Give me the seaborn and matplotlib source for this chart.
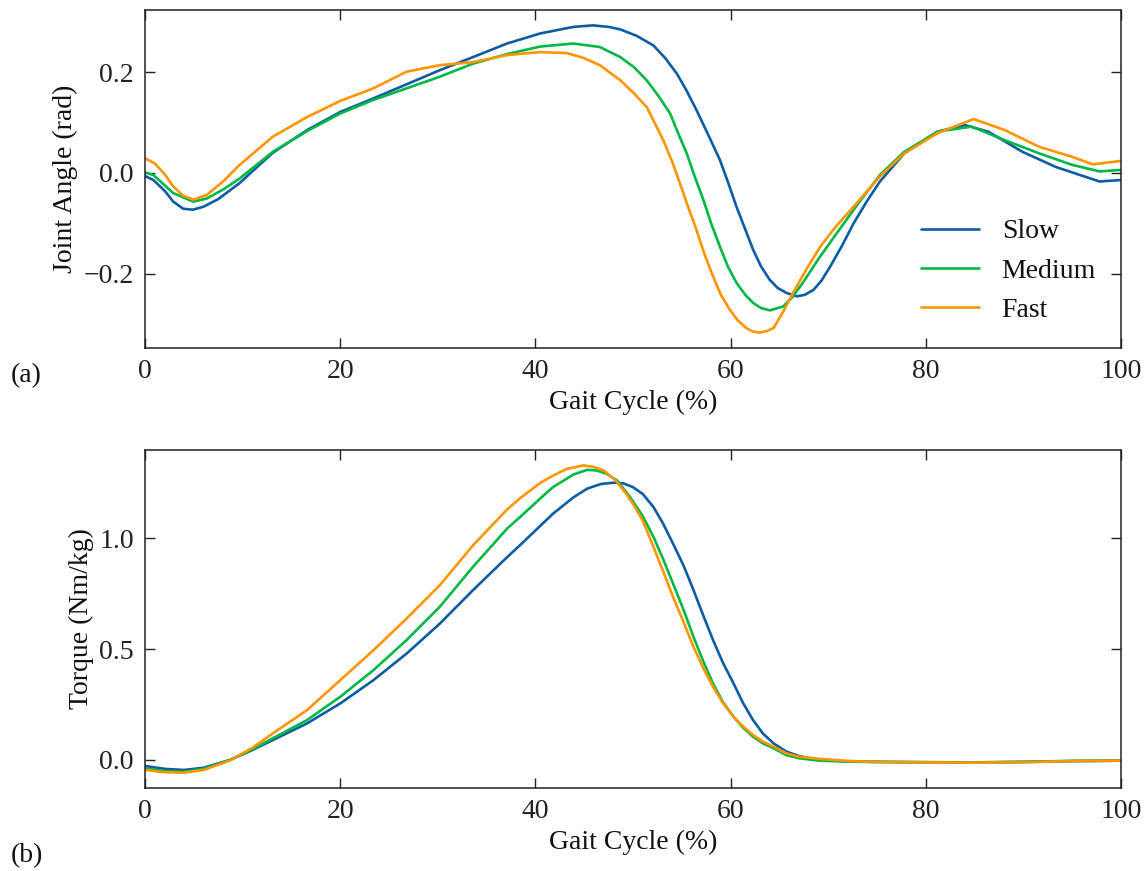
import numpy as np
import pandas as pd
import matplotlib
matplotlib.use("Agg")
import matplotlib.pyplot as plt
from matplotlib.ticker import MultipleLocator
import seaborn as sns

SPEEDS = ["Slow", "Medium", "Fast"]
COLORS = {"Slow": "#0C5DA5", "Medium": "#00B945", "Fast": "#FF9500"}

# (gait cycle %, joint angle rad)
angle_slow = [
    (0, -0.006), (0.85, -0.014), (2, -0.035), (2.9, -0.057), (3.9, -0.071), (4.9, -0.073),
    (6.0, -0.067), (7.5, -0.052), (9.7, -0.020), (11.5, 0.012), (13.1, 0.040), (16.6, 0.085),
    (20.0, 0.121), (23.4, 0.148), (26.8, 0.176), (30.2, 0.204), (33.6, 0.230), (37.1, 0.257),
    (40.5, 0.277), (43.9, 0.290), (45.9, 0.293), (47.5, 0.290), (48.7, 0.285), (50.4, 0.272),
    (52.1, 0.253), (53.3, 0.228), (54.5, 0.197), (55.5, 0.163), (56.5, 0.125), (57.7, 0.076),
    (58.9, 0.026), (59.8, -0.022), (60.6, -0.067), (61.5, -0.112), (62.3, -0.152),
    (63.1, -0.185), (64.0, -0.212), (64.8, -0.228), (65.7, -0.238), (66.8, -0.245),
    (67.6, -0.242), (68.5, -0.232), (69.3, -0.214), (70.2, -0.186), (71.4, -0.145),
    (72.6, -0.100), (74.0, -0.055), (75.3, -0.017), (77.8, 0.039), (81.2, 0.082),
    (84.0, 0.095), (86.4, 0.082), (89.9, 0.042), (93.3, 0.012), (97.8, -0.017), (100, -0.014),
]
angle_medium = [
    (0, 0.001), (0.85, -0.004), (2.9, -0.040), (4.95, -0.057), (6.3, -0.051), (8.0, -0.033),
    (9.7, -0.011), (13.1, 0.042), (16.6, 0.083), (20.0, 0.118), (23.4, 0.145), (26.8, 0.168),
    (30.2, 0.191), (33.6, 0.217), (37.1, 0.236), (40.5, 0.251), (43.9, 0.257), (46.6, 0.250),
    (48.7, 0.230), (50.1, 0.210), (51.4, 0.184), (52.6, 0.153), (53.8, 0.118), (54.6, 0.080),
    (55.5, 0.039), (56.3, -0.006), (57.2, -0.053), (58.0, -0.100), (58.9, -0.146),
    (59.7, -0.185), (60.6, -0.218), (61.5, -0.242), (62.3, -0.258), (63.1, -0.268),
    (64.0, -0.273), (65.4, -0.265), (66.4, -0.245), (67.4, -0.218), (69.1, -0.168),
    (70.9, -0.119), (73.1, -0.060), (75.3, -0.004), (77.8, 0.042), (81.2, 0.082),
    (84.7, 0.092), (88.1, 0.065), (91.6, 0.039), (95.0, 0.016), (97.8, 0.003), (100, 0.006),
]
angle_fast = [
    (0, 0.029), (1.0, 0.019), (2.0, -0.002), (2.9, -0.027), (3.9, -0.045), (4.95, -0.053),
    (6.3, -0.044), (8.0, -0.017), (9.7, 0.016), (13.1, 0.072), (16.6, 0.111), (20.0, 0.143),
    (23.4, 0.168), (26.8, 0.201), (30.2, 0.214), (33.6, 0.220), (37.1, 0.234), (40.5, 0.240),
    (43.2, 0.238), (45.0, 0.228), (46.6, 0.214), (48.7, 0.184), (50.1, 0.158), (51.4, 0.131),
    (52.2, 0.100), (53.1, 0.065), (54.0, 0.023), (54.8, -0.020), (55.6, -0.065),
    (56.5, -0.113), (57.3, -0.160), (58.2, -0.205), (59.0, -0.242), (59.9, -0.271),
    (60.7, -0.292), (61.6, -0.308), (62.3, -0.315), (63.0, -0.317), (63.7, -0.314),
    (64.4, -0.308), (65.4, -0.275), (66.4, -0.238), (67.8, -0.190), (69.2, -0.146),
    (70.8, -0.106), (72.6, -0.067), (75.3, -0.007), (77.8, 0.039), (81.2, 0.079),
    (84.9, 0.107), (88.1, 0.085), (91.6, 0.052), (95.0, 0.032), (97.1, 0.017), (100, 0.024),
]

# (gait cycle %, torque Nm/kg)
torque_slow = [
    (0, -0.027), (2, -0.040), (4, -0.045), (6, -0.035), (8.7, 0.0), (11, 0.045),
    (13.1, 0.090), (16.6, 0.165), (20, 0.255), (23.4, 0.360), (26.8, 0.480), (30.2, 0.615),
    (33.6, 0.766), (37.1, 0.915), (38.4, 0.968), (41.8, 1.111), (43.9, 1.185), (45.3, 1.224),
    (46.7, 1.245), (48.0, 1.251), (49.0, 1.248), (50.0, 1.231), (51.0, 1.200), (52.1, 1.141),
    (53.1, 1.065), (54.1, 0.976), (55.2, 0.875), (56.2, 0.766), (57.2, 0.652), (58.2, 0.541),
    (59.2, 0.440), (60.3, 0.345), (61.3, 0.255), (62.3, 0.180), (63.3, 0.120), (64.4, 0.075),
    (65.7, 0.038), (67.0, 0.018), (69.1, 0.0), (72, -0.006), (74.3, -0.008), (80, -0.010),
    (84.7, -0.011), (90, -0.009), (95, -0.005), (100, -0.003),
]
torque_medium = [
    (0, -0.038), (2, -0.050), (4, -0.053), (6, -0.040), (8.7, 0.0), (11, 0.048),
    (13.1, 0.098), (16.6, 0.180), (20, 0.285), (23.4, 0.405), (26.8, 0.541), (30.2, 0.691),
    (33.6, 0.871), (37.1, 1.044), (38.4, 1.095), (40.5, 1.180), (41.8, 1.231), (43.9, 1.288),
    (45.3, 1.309), (46.3, 1.306), (47.3, 1.291), (48.4, 1.260), (49.7, 1.186), (51.0, 1.100),
    (52.1, 1.006), (53.1, 0.905), (54.1, 0.796), (55.2, 0.675), (56.2, 0.555), (57.2, 0.445),
    (58.2, 0.345), (59.2, 0.262), (60.3, 0.195), (61.3, 0.145), (62.3, 0.105), (63.3, 0.075),
    (64.4, 0.053), (65.7, 0.022), (67.0, 0.008), (69.1, -0.003), (72, -0.007), (74.3, -0.009),
    (80, -0.010), (84.7, -0.011), (90, -0.008), (95, -0.004), (100, -0.003),
]
torque_fast = [
    (0, -0.045), (2, -0.055), (4, -0.057), (6, -0.045), (8.7, -0.002), (11, 0.055),
    (13.1, 0.120), (16.6, 0.225), (20, 0.360), (23.4, 0.495), (26.8, 0.638), (30.2, 0.788),
    (33.6, 0.968), (37.1, 1.130), (38.4, 1.180), (40.5, 1.250), (41.8, 1.283), (43.2, 1.313),
    (44.9, 1.329), (46.0, 1.322), (47.0, 1.306), (48.2, 1.262), (49.3, 1.201), (50.1, 1.149),
    (51.0, 1.080), (52.1, 0.961), (53.1, 0.850), (54.1, 0.736), (55.2, 0.620), (56.2, 0.510),
    (57.2, 0.415), (58.2, 0.330), (59.2, 0.258), (60.3, 0.195), (61.3, 0.150), (62.3, 0.113),
    (63.3, 0.083), (64.4, 0.060), (65.7, 0.030), (67.0, 0.015), (69.1, 0.005), (72, -0.004),
    (74.3, -0.008), (80, -0.011), (84.7, -0.012), (90, -0.010), (95, -0.005), (100, -0.003),
]


def long_form(series):
    rows = []
    for speed, pts in series:
        for x, y in pts:
            rows.append({"Gait": x, "Value": y, "Speed": speed})
    return pd.DataFrame(rows)


df_angle = long_form([("Slow", angle_slow), ("Medium", angle_medium), ("Fast", angle_fast)])
df_torque = long_form([("Slow", torque_slow), ("Medium", torque_medium), ("Fast", torque_fast)])

sns.set_theme(style="ticks")
plt.rcParams.update({
    "font.family": ["Liberation Serif", "DejaVu Serif"],
    "font.size": 20,
    "axes.labelsize": 20,
    "xtick.labelsize": 20,
    "ytick.labelsize": 20,
    "legend.fontsize": 20,
    "axes.linewidth": 1.1,
    "axes.edgecolor": "#222222",
    "xtick.direction": "in",
    "ytick.direction": "in",
    "xtick.top": True,
    "ytick.right": True,
    "xtick.major.size": 7,
    "ytick.major.size": 7,
    "xtick.color": "#222222",
    "ytick.color": "#222222",
    "text.color": "#111111",
    "axes.labelcolor": "#111111",
})

fig = plt.figure(figsize=(11.48, 8.71), dpi=100)
ax1 = fig.add_axes([0.1263, 0.6005, 0.8502, 0.388])
ax2 = fig.add_axes([0.1263, 0.0953, 0.8502, 0.388])

sns.lineplot(data=df_angle, x="Gait", y="Value", hue="Speed", hue_order=SPEEDS,
             palette=COLORS, linewidth=1.9, ax=ax1, estimator=None)
sns.lineplot(data=df_torque, x="Gait", y="Value", hue="Speed", hue_order=SPEEDS,
             palette=COLORS, linewidth=1.9, ax=ax2, estimator=None, legend=False)

for ax in (ax1, ax2):
    ax.set_xlim(0, 100)
    ax.xaxis.set_major_locator(MultipleLocator(20))
    ax.set_xlabel("Gait Cycle (%)")
    ax.tick_params(which="major", width=1.0, pad=8)

ax1.yaxis.set_major_locator(MultipleLocator(0.2))
ax2.yaxis.set_major_locator(MultipleLocator(0.5))
ax1.set_ylabel("Joint Angle (rad)")
ax2.set_ylabel("Torque (Nm/kg)")

ax1.legend(title=None, loc="lower right", frameon=False, handlelength=2.1)

fig.text(0.009, 0.569, "(a)", fontsize=20, va="center")
fig.text(0.009, 0.018, "(b)", fontsize=20, va="center")

fig.savefig("out.png", dpi=100)
